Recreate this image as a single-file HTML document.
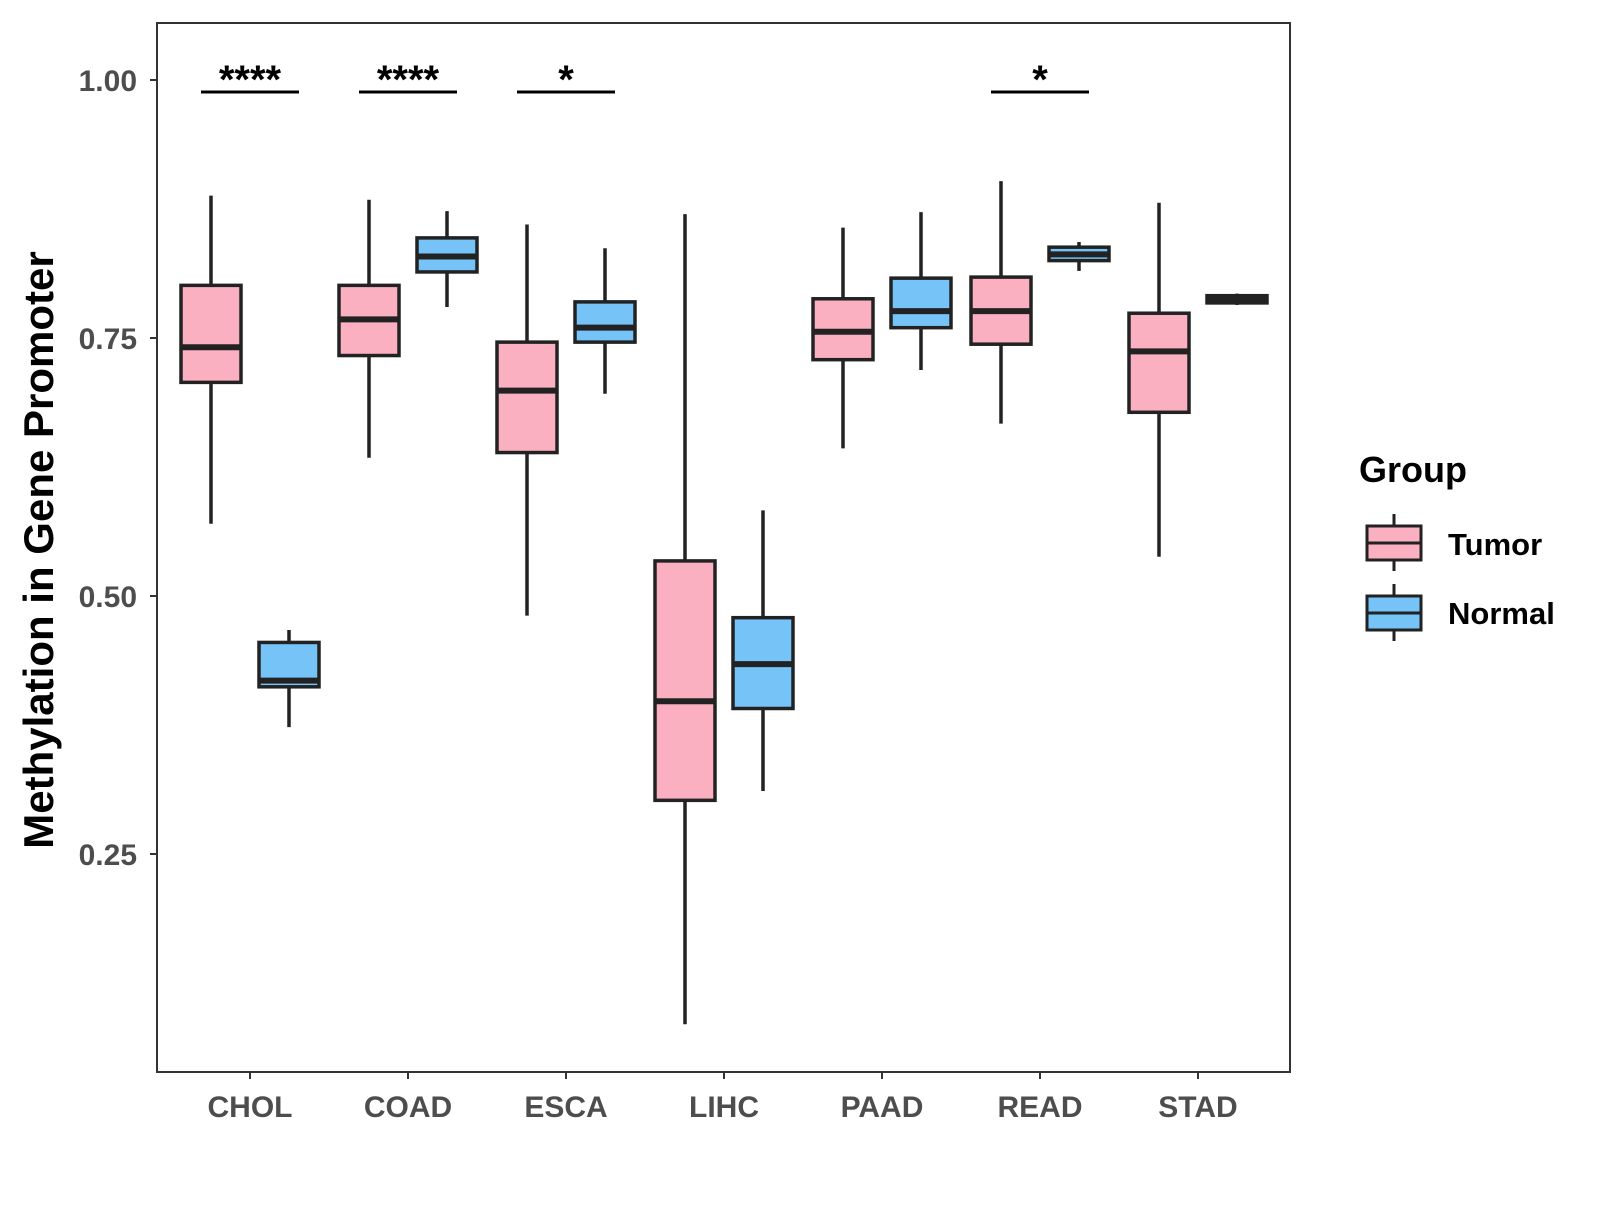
<!DOCTYPE html>
<html><head><meta charset="utf-8"><style>
body{margin:0;background:#fff}
svg text{font-family:"Liberation Sans",Arial,sans-serif;font-weight:bold}
</style></head><body>
<svg id="chart" width="1600" height="1200" xmlns="http://www.w3.org/2000/svg">
<rect x="0" y="0" width="1600" height="1200" fill="#fff"/>
<g id="plot"></g>
<rect x="157" y="23" width="1133" height="1049" fill="none" stroke="#333" stroke-width="2"/>
<text transform="translate(53,550) rotate(-90)" text-anchor="middle" font-size="42" fill="#000">Methylation in Gene Promoter</text>
<text x="1359" y="482" font-size="36" fill="#000">Group</text>
<g>
<line x1="1394" y1="514" x2="1394" y2="571" stroke="#222" stroke-width="3"/>
<rect x="1367" y="526" width="54" height="34" fill="#fbb0c1" stroke="#222" stroke-width="3"/>
<line x1="1367" y1="543" x2="1421" y2="543" stroke="#222" stroke-width="3"/>
<text x="1448" y="555" font-size="31" fill="#000">Tumor</text></g>
<g>
<line x1="1394" y1="584" x2="1394" y2="641" stroke="#222" stroke-width="3"/>
<rect x="1367" y="596" width="54" height="34" fill="#76c3f7" stroke="#222" stroke-width="3"/>
<line x1="1367" y1="613" x2="1421" y2="613" stroke="#222" stroke-width="3"/>
<text x="1448" y="624" font-size="31" fill="#000">Normal</text></g>
</svg>
<script>
const categories=["CHOL","COAD","ESCA","LIHC","PAAD","READ","STAD"];
// [min,q1,median,q3,max]
const tumorStats=[[0.570,0.707,0.741,0.801,0.888],[0.634,0.733,0.768,0.801,0.884],[0.481,0.639,0.699,0.746,0.860],[0.085,0.302,0.398,0.534,0.870],[0.643,0.729,0.756,0.788,0.857],[0.667,0.744,0.776,0.809,0.902],[0.538,0.678,0.737,0.774,0.881]];
const normalStats=[[0.373,0.412,0.418,0.455,0.467],[0.780,0.814,0.829,0.847,0.873],[0.696,0.746,0.760,0.785,0.837],[0.311,0.391,0.434,0.479,0.583],[0.719,0.760,0.776,0.808,0.872],[0.815,0.825,0.831,0.838,0.843],[0.782,0.784,0.788,0.791,0.793]];
const yTicks=[0.25,0.50,0.75,1.00];
const yTickLabels=["0.25","0.50","0.75","1.00"];
const sigLabels=["****","****","*","","","*",""];
const NS="http://www.w3.org/2000/svg";
const g=document.getElementById('plot');
const yS=v=>80+(1-v)*1032;
const xS=i=>250+i*158;
function mk(tag,attrs,parent){const e=document.createElementNS(NS,tag);for(const k in attrs)e.setAttribute(k,attrs[k]);(parent||g).appendChild(e);return e;}
yTicks.forEach((t,i)=>{
  const l=mk('line',{x1:150,x2:157,y1:yS(t),y2:yS(t),stroke:'#333','stroke-width':2});
  
  
  const tx=mk('text',{x:137,y:yS(t)+11,'text-anchor':'end','font-size':30,fill:'#4d4d4d'});
  tx.textContent=yTickLabels[i];
  
  
});
categories.forEach((c,i)=>{
  const l=mk('line',{x1:xS(i),x2:xS(i),y1:1072,y2:1079,stroke:'#333','stroke-width':2});
  
  
  const tx=mk('text',{x:xS(i),y:1117,'text-anchor':'middle','font-size':30,fill:'#4d4d4d'});
  tx.textContent=c;
  
  
});
function box(i,s,off,fill,name){
  const cx=xS(i)+off, hw=30;
  const grp=mk('g',{});
  
  
  mk('line',{x1:cx,x2:cx,y1:yS(s[4]),y2:yS(s[0]),stroke:'#222','stroke-width':3.5},grp);
  mk('rect',{x:cx-hw,y:yS(s[3]),width:2*hw,height:Math.max(yS(s[1])-yS(s[3]),1),fill:fill,stroke:'#222','stroke-width':3.5},grp);
  mk('line',{x1:cx-hw,x2:cx+hw,y1:yS(s[2]),y2:yS(s[2]),stroke:'#222','stroke-width':6},grp);
}
categories.forEach((c,i)=>{
  box(i,tumorStats[i],-39,'#fbb0c1','box-tumor-'+c.toLowerCase());
  box(i,normalStats[i],39,'#76c3f7','box-normal-'+c.toLowerCase());
  if(sigLabels[i]){
    const l=mk('line',{x1:xS(i)-49,x2:xS(i)+49,y1:92,y2:92,stroke:'#000','stroke-width':3});
    
    
    const tx=mk('text',{x:xS(i),y:93,'text-anchor':'middle','font-size':40,fill:'#000'});
    tx.textContent=sigLabels[i];
    
    
  }
});
</script>
</body></html>
